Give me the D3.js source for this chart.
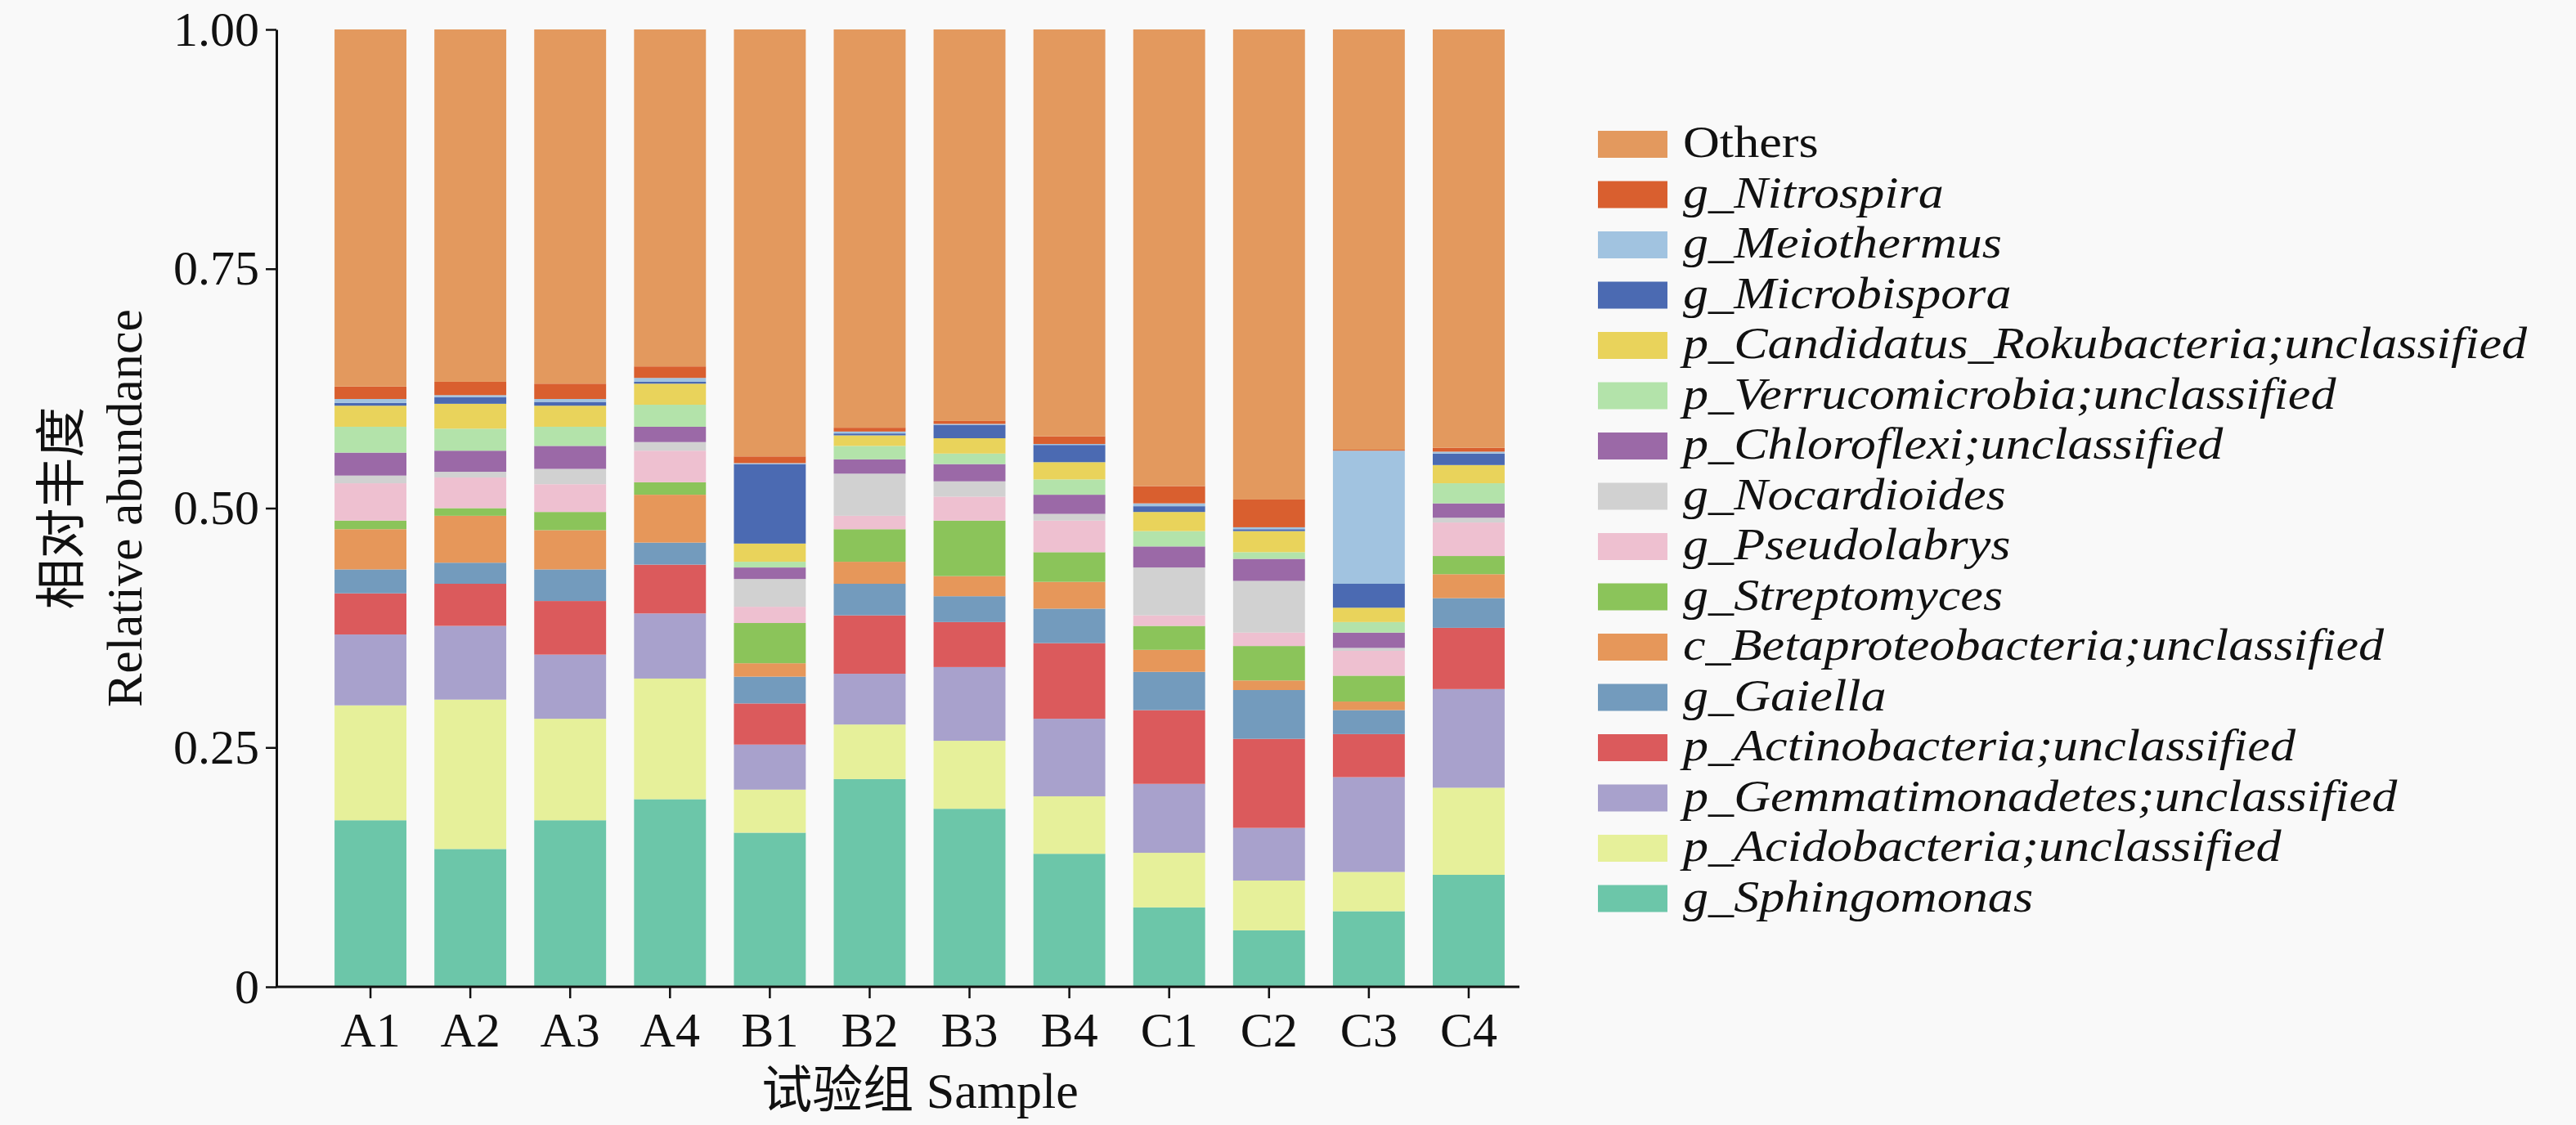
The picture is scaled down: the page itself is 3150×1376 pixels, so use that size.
<!DOCTYPE html>
<html>
<head>
<meta charset="utf-8">
<script src="https://cdn.jsdelivr.net/npm/d3@7"></script>
<style>
  body { margin: 0; background: #f9f9f9; }
  text { font-family: "Liberation Serif", "Noto Sans CJK SC", serif; fill: #111; }
</style>
</head>
<body>
<svg id="chart" width="3150" height="1376"></svg>
<script>
// samples on the x axis
var samples = ["A1","A2","A3","A4","B1","B2","B3","B4","C1","C2","C3","C4"];

// relative abundance per taxon, one value per sample (bottom of stack first)
var sphingomonas     = [0.174,0.144,0.174,0.196,0.161,0.217,0.186,0.139,0.083,0.059,0.079,0.117];
var acidobacteria    = [0.120,0.156,0.106,0.126,0.045,0.057,0.071,0.060,0.057,0.052,0.041,0.091];
var gemmatimonadetes = [0.074,0.077,0.067,0.068,0.047,0.053,0.077,0.081,0.072,0.055,0.099,0.103];
var actinobacteria   = [0.043,0.044,0.056,0.051,0.043,0.061,0.047,0.079,0.077,0.093,0.045,0.064];
var gaiella          = [0.025,0.022,0.033,0.023,0.028,0.033,0.027,0.036,0.040,0.051,0.025,0.031];
var betaproteo       = [0.042,0.049,0.041,0.050,0.014,0.023,0.021,0.028,0.023,0.010,0.009,0.025];
var streptomyces     = [0.009,0.008,0.019,0.013,0.042,0.034,0.058,0.031,0.025,0.036,0.027,0.019];
var pseudolabrys     = [0.039,0.032,0.029,0.033,0.017,0.014,0.025,0.033,0.011,0.014,0.026,0.035];
var nocardioides     = [0.008,0.006,0.016,0.009,0.029,0.044,0.016,0.007,0.050,0.054,0.003,0.005];
var chloroflexi      = [0.024,0.022,0.024,0.016,0.012,0.015,0.018,0.020,0.022,0.023,0.016,0.015];
var verrucomicrobia  = [0.027,0.023,0.020,0.023,0.006,0.014,0.011,0.016,0.016,0.007,0.011,0.021];
var rokubacteria     = [0.022,0.026,0.022,0.022,0.019,0.011,0.016,0.018,0.020,0.022,0.015,0.019];
var microbispora     = [0.003,0.007,0.004,0.002,0.083,0.002,0.014,0.018,0.006,0.002,0.025,0.012];
var meiothermus      = [0.004,0.002,0.003,0.004,0.001,0.002,0.001,0.001,0.003,0.002,0.139,0.002];
var nitrospira       = [0.013,0.014,0.016,0.012,0.007,0.004,0.003,0.008,0.018,0.029,0.001,0.004];
var others           = [0.373,0.368,0.370,0.352,0.446,0.416,0.409,0.425,0.477,0.491,0.439,0.437];

// taxon labels, bottom to top
var taxa = ["g_Sphingomonas","p_Acidobacteria;unclassified","p_Gemmatimonadetes;unclassified",
  "p_Actinobacteria;unclassified","g_Gaiella","c_Betaproteobacteria;unclassified","g_Streptomyces",
  "g_Pseudolabrys","g_Nocardioides","p_Chloroflexi;unclassified","p_Verrucomicrobia;unclassified",
  "p_Candidatus_Rokubacteria;unclassified","g_Microbispora","g_Meiothermus","g_Nitrospira","Others"];
var series = [sphingomonas,acidobacteria,gemmatimonadetes,actinobacteria,gaiella,betaproteo,
  streptomyces,pseudolabrys,nocardioides,chloroflexi,verrucomicrobia,rokubacteria,
  microbispora,meiothermus,nitrospira,others];
var yTicks = [0, 0.25, 0.5, 0.75, 1];
var yTickLabels = ["0","0.25","0.50","0.75","1.00"];

var palette = ["#6cc6a9","#e6f09a","#a8a1cc","#db5a5c","#739bbd","#e6975a","#8bc45a",
  "#eec0d0","#d1d1d1","#9b69a7","#b3e3aa","#e9d35b","#4b6ab2","#a1c3e0","#d95f2f","#e3995e"];

// build rows for d3.stack
var rows = samples.map(function(s, i){
  var r = {sample: s};
  taxa.forEach(function(t, j){ r[t] = series[j][i]; });
  return r;
});

var svg = d3.select("#chart");
var axisX = 338, plotTop = 36, plotBottom = 1207, axisRight = 1858;

var x = d3.scaleBand().domain(samples).range([392, 1857])
          .paddingInner(0.28).paddingOuter(0.14);
var y = d3.scaleLinear().domain([0, 1]).range([plotBottom, plotTop]);
var color = d3.scaleOrdinal().domain(taxa).range(palette);

var stacked = d3.stack().keys(taxa)(rows);

svg.append("g").selectAll("g")
   .data(stacked).enter()
   .append("g")
   .attr("fill", function(d){ return color(d.key); })
   .selectAll("rect")
   .data(function(d){ return d; }).enter()
   .append("rect")
   .attr("x", function(d){ return x(d.data.sample); })
   .attr("width", x.bandwidth())
   .attr("y", function(d){ return y(d[1]); })
   .attr("height", function(d){ return y(d[0]) - y(d[1]); });

// y axis
var yAxis = svg.append("g")
   .attr("transform", "translate(" + axisX + ",0)")
   .call(d3.axisLeft(y).tickValues(yTicks)
           .tickFormat(function(d, i){ return yTickLabels[i]; })
           .tickSize(13).tickSizeOuter(0).tickPadding(8));
yAxis.select(".domain").attr("stroke", "#111").attr("stroke-width", 3);
yAxis.selectAll(".tick line").attr("stroke", "#111").attr("stroke-width", 2.5);
yAxis.selectAll(".tick text").style("font-size", "60px").attr("fill", "#111");

// x axis
var xAxis = svg.append("g")
   .attr("transform", "translate(0," + plotBottom + ")")
   .call(d3.axisBottom(x).tickSize(14).tickSizeOuter(0).tickPadding(16));
xAxis.select(".domain").remove();
xAxis.selectAll(".tick line").attr("stroke", "#111").attr("stroke-width", 2.5);
xAxis.selectAll(".tick text").style("font-size", "60px").attr("fill", "#111");
svg.append("line")
   .attr("x1", axisX - 1).attr("x2", axisRight)
   .attr("y1", plotBottom).attr("y2", plotBottom)
   .attr("stroke", "#111").attr("stroke-width", 3);

// axis titles
svg.append("text")
   .attr("transform", "translate(97," + ((plotTop + plotBottom) / 2) + ") rotate(-90)")
   .attr("text-anchor", "middle")
   .style("font-size", "62px")
   .text("相对丰度");
svg.append("text")
   .attr("transform", "translate(173," + ((plotTop + plotBottom) / 2) + ") rotate(-90)")
   .attr("text-anchor", "middle")
   .style("font-size", "62px")
   .text("Relative abundance");
svg.append("text")
   .attr("x", 1125).attr("y", 1355)
   .attr("text-anchor", "middle")
   .style("font-size", "62px")
   .text("试验组 Sample");

// legend, top entry is the top of the stack
var legendTaxa = taxa.slice().reverse();
var legend = svg.append("g").selectAll("g")
   .data(legendTaxa).enter()
   .append("g")
   .attr("transform", function(d, i){ return "translate(1954," + (176 + i * 61.5) + ")"; });
legend.append("rect")
   .attr("x", 0).attr("y", -16)
   .attr("width", 85).attr("height", 33)
   .attr("fill", function(d){ return color(d); });
// slightly narrower line height than the reference font so rows do not collide
legend.append("text")
   .attr("transform", "translate(104,16) scale(1.13,1)")
   .style("font-size", "55px")
   .style("font-style", function(d){ return d == "Others" ? "normal" : "italic"; })
   .text(function(d){ return d; });
</script>
</body>
</html>
